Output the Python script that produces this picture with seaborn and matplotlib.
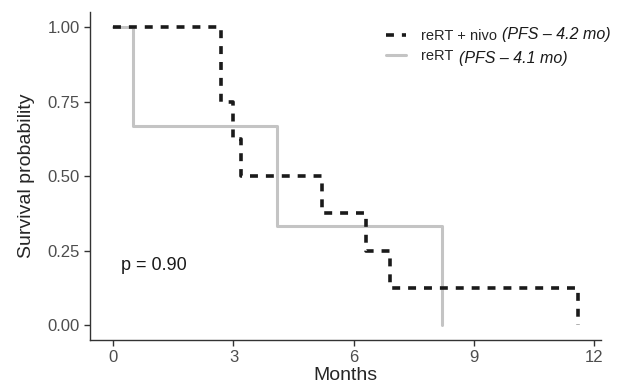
import numpy as np
import pandas as pd
import matplotlib
matplotlib.use("Agg")
import matplotlib.pyplot as plt
import seaborn as sns

# Kaplan-Meier step data
nivo_months = [0, 2.7, 3.0, 3.2, 5.2, 6.3, 6.9, 11.6]
nivo_surv = [1.0, 0.75, 0.625, 0.5, 0.375, 0.25, 0.125, 0.0]
rert_months = [0, 0.5, 4.1, 8.2]
rert_surv = [1.0, 2 / 3, 1 / 3, 0.0]

x_ticks = [0, 3, 6, 9, 12]
y_ticks = [0.0, 0.25, 0.5, 0.75, 1.0]

df = pd.concat([
    pd.DataFrame({"Months": nivo_months, "Survival": nivo_surv, "group": "reRT + nivo"}),
    pd.DataFrame({"Months": rert_months, "Survival": rert_surv, "group": "reRT"}),
])

sns.set_theme(style="ticks")
plt.rcParams["font.family"] = ["Liberation Sans", "DejaVu Sans"]

fig = plt.figure(figsize=(6.26, 3.9), dpi=100)
ax = fig.add_axes([0.144, 0.128, 0.816, 0.841])

sns.lineplot(data=df[df.group == "reRT"], x="Months", y="Survival",
             color="#c4c4c4", lw=2.2, drawstyle="steps-post",
             estimator=None, sort=False, ax=ax, label="reRT")
sns.lineplot(data=df[df.group == "reRT + nivo"], x="Months", y="Survival",
             color="#1a1a1a", lw=2.6, drawstyle="steps-post",
             estimator=None, sort=False, ax=ax, label="reRT + nivo")
ax.lines[1].set_dashes([2.2, 2.2])

# legend order: nivo first
h, l = ax.get_legend_handles_labels()
ax.legend([h[1], h[0]], [l[1], l[0]], frameon=False, fontsize=10.5,
          handlelength=1.4, handletextpad=1.0, labelspacing=0.45,
          loc="upper left", bbox_to_anchor=(380 / 626, 1 - 23 / 390),
          bbox_transform=fig.transFigure, borderaxespad=0)
fig.text(502 / 626, 1 - 34 / 390, "(PFS \u2013 4.2 mo)", fontsize=11.5,
         style="italic", va="center", color="#1a1a1a")
fig.text(459 / 626, 1 - 59 / 390, "(PFS \u2013 4.1 mo)", fontsize=11.5,
         style="italic", va="center", color="#1a1a1a")

ax.text(0.2, 0.2, "p = 0.90", fontsize=13, va="center", color="#1a1a1a")

ax.set_xlim(-0.58, 12.18)
ax.set_ylim(-0.05, 1.05)
ax.set_xticks(x_ticks)
ax.set_yticks(y_ticks)
ax.set_yticklabels([f"{v:.2f}" for v in y_ticks])
ax.tick_params(labelsize=12, labelcolor="#4d4d4d", color="#333333",
               length=4, width=1)
ax.set_xlabel("Months", fontsize=14, labelpad=1)
ax.set_ylabel("Survival probability", fontsize=14, labelpad=9)
for s in ["left", "bottom"]:
    ax.spines[s].set_color("#333333")
    ax.spines[s].set_linewidth(1)
sns.despine(ax=ax)

fig.savefig("out.png", dpi=100)
